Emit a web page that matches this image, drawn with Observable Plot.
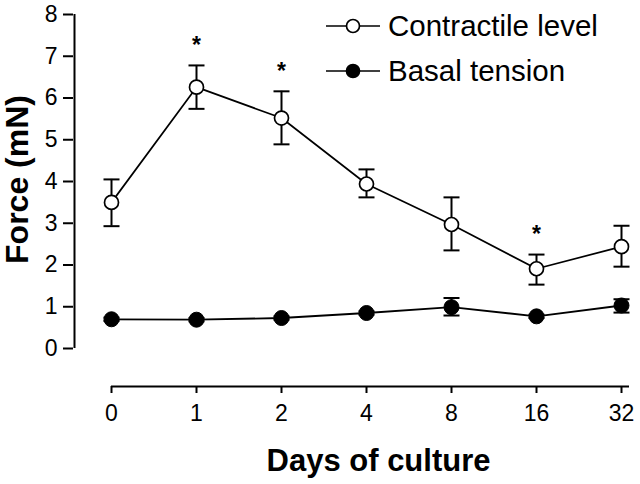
<!DOCTYPE html>
<html><head><meta charset="utf-8">
<script src="https://cdn.jsdelivr.net/npm/d3@7"></script>
<script src="https://cdn.jsdelivr.net/npm/@observablehq/plot@0.6"></script>
<style>
body{margin:0;background:#fff;}
#wrap{position:relative;width:640px;height:484px;font-family:"Liberation Sans",Arial,sans-serif;}
.leg{position:absolute;left:326px;display:flex;align-items:center;height:40px;font-size:29.5px;color:#000;white-space:nowrap;}
.leg span{margin-left:8px;}
</style></head><body>
<div id="wrap"></div>
<script>
const days = ["0","1","2","4","8","16","32"];
const contractileMean = [3.50, 6.26, 5.52, 3.94, 2.97, 1.91, 2.44];
const contractileLow  = [2.93, 5.74, 4.89, 3.62, 2.35, 1.53, 1.96];
const contractileHigh = [4.05, 6.78, 6.16, 4.29, 3.62, 2.25, 2.94];
const basalMean = [0.70, 0.69, 0.73, 0.85, 0.99, 0.77, 1.03];
const basalLow  = [0.66, 0.65, 0.69, 0.81, 0.79, 0.73, 0.86];
const basalHigh = [0.74, 0.73, 0.77, 0.89, 1.21, 0.81, 1.18];
const starDays = ["1","2","16"];
const yTicks = [0,1,2,3,4,5,6,7,8];
const seriesNames = ["Contractile level","Basal tension"];
const seriesFill = ["white","black"];
const yLabel = "Force (mN)";
const xLabel = "Days of culture";

const contractile = days.map((d,i)=>({day:d, mean:contractileMean[i], lo:contractileLow[i], hi:contractileHigh[i]}));
const basal = days.map((d,i)=>({day:d, mean:basalMean[i], lo:basalLow[i], hi:basalHigh[i]}));
const stars = starDays.map(d => contractile.find(r => r.day === d));

const cap = {draw(ctx){ ctx.moveTo(-8,0); ctx.lineTo(8,0); }};
const ink = "#000";

const chart = Plot.plot({
  width:640, height:484,
  marginLeft:110, marginRight:18, marginTop:14, marginBottom:98,
  style:{fontFamily:"Liberation Sans, Arial, sans-serif", fontSize:"23px", color:ink, background:"white"},
  x:{type:"point", domain:days, padding:0},
  y:{domain:[0,8], range:[348,14]},
  marks:[
    Plot.ruleX([days[0]], {y1:0, y2:8, dx:-37, strokeWidth:2, stroke:ink}),
    Plot.axisY(yTicks, {anchor:"left", dx:-37, tickSize:10, tickPadding:6, fontSize:23, strokeWidth:2, label:null}),
    Plot.ruleY([0], {x1:()=>days[0], x2:()=>days[days.length-1], dy:38, insetRight:-8, strokeWidth:2, stroke:ink}),
    Plot.axisX(days, {anchor:"bottom", tickSize:7, tickPadding:11, fontSize:23, strokeWidth:2, label:null}),
    // basal tension
    Plot.ruleX(basal, {x:"day", y1:"lo", y2:"hi", strokeWidth:2, stroke:ink}),
    Plot.dot(basal, {x:"day", y:"hi", symbol:cap, stroke:ink, strokeWidth:2, fill:"none"}),
    Plot.dot(basal, {x:"day", y:"lo", symbol:cap, stroke:ink, strokeWidth:2, fill:"none"}),
    Plot.line(basal, {x:"day", y:"mean", stroke:ink, strokeWidth:1.8}),
    Plot.dot(basal, {x:"day", y:"mean", r:7.5, fill:seriesFill[1], stroke:ink, strokeWidth:1}),
    // contractile level
    Plot.ruleX(contractile, {x:"day", y1:"lo", y2:"hi", strokeWidth:2, stroke:ink}),
    Plot.dot(contractile, {x:"day", y:"hi", symbol:cap, stroke:ink, strokeWidth:2, fill:"none"}),
    Plot.dot(contractile, {x:"day", y:"lo", symbol:cap, stroke:ink, strokeWidth:2, fill:"none"}),
    Plot.line(contractile, {x:"day", y:"mean", stroke:ink, strokeWidth:1.7}),
    Plot.dot(contractile, {x:"day", y:"mean", r:7, fill:seriesFill[0], stroke:ink, strokeWidth:1.7}),
    // significance stars
    Plot.text(stars, {x:"day", y:"hi", text:()=>"*", dy:-20, fontSize:23, fontWeight:"bold", fill:ink}),
    // axis titles
    Plot.text([yLabel], {frameAnchor:"left", textAnchor:"middle", lineAnchor:"middle", rotate:-90, dx:-93, dy:-21, fontSize:32, fontWeight:"bold", fill:ink}),
    Plot.text([xLabel], {frameAnchor:"bottom", textAnchor:"middle", lineAnchor:"middle", dx:12, dy:75, fontSize:31, fontWeight:"bold", fill:ink})
  ]
});
const wrap = document.getElementById("wrap");
wrap.appendChild(chart);

const legendTops = [6, 51];
seriesNames.forEach((name, i) => {
  const row = document.createElement("div");
  row.className = "leg";
  row.style.top = legendTops[i] + "px";
  row.innerHTML = `<svg width="54" height="20"><line x1="0" x2="54" y1="10" y2="10" stroke="#000" stroke-width="1.7"/><circle cx="27" cy="10" r="6.5" fill="${seriesFill[i]}" stroke="#000" stroke-width="1.7"/></svg><span>${name}</span>`;
  wrap.appendChild(row);
});
</script>
</body></html>
